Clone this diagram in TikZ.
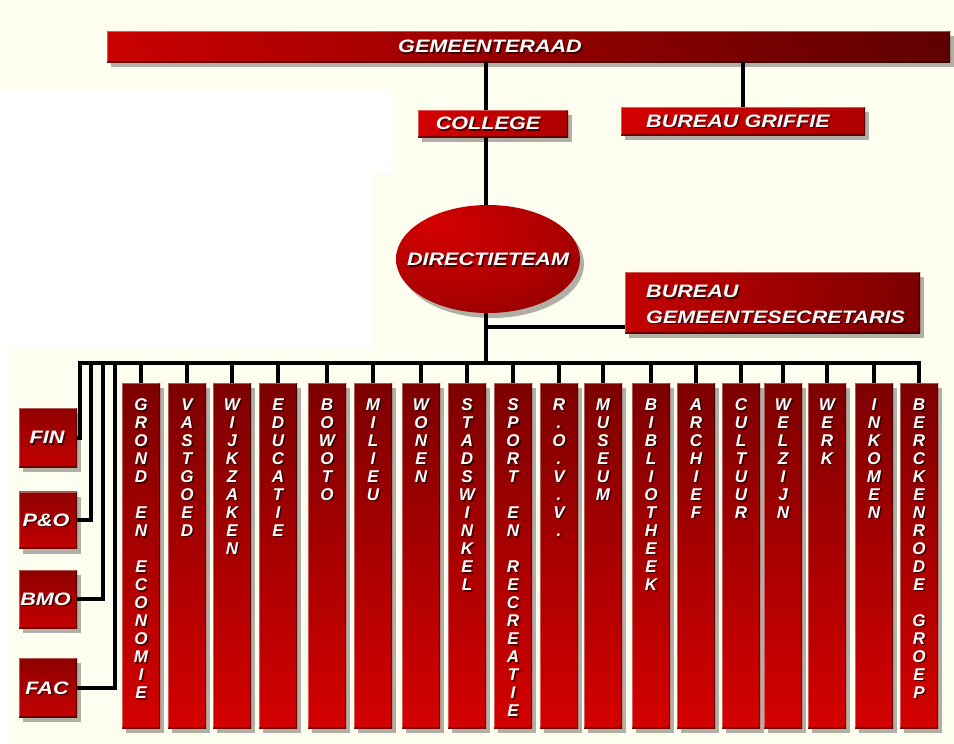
\documentclass[tikz,border=0pt]{standalone}
\usepackage{fontspec}
\newfontfamily\labfont[FakeStretch=1.2]{Liberation Sans}
\newfontfamily\colfont{Liberation Sans}
\usetikzlibrary{shapes.geometric,shadows}
\definecolor{cream}{RGB}{253,253,240}
\definecolor{rbright}{RGB}{212,0,0}
\definecolor{rmid}{RGB}{175,0,0}
\definecolor{rdark}{RGB}{125,0,0}
\definecolor{rdeep}{RGB}{95,0,0}
\pgfdeclareradialshading{dirshade}{\pgfpoint{-14bp}{16bp}}{color(0bp)=(rbright); color(26bp)=(rmid); color(50bp)=(rdark); color(75bp)=(rdeep)}
\tikzset{
  conn/.style={line width=4pt, black, line join=miter},
  bevel/.style={path picture={
      \draw[white,opacity=.35,line width=2.5pt] (path picture bounding box.south west) -- (path picture bounding box.north west) -- (path picture bounding box.north east);
      \draw[black,opacity=.45,line width=2.5pt] (path picture bounding box.north east) -- (path picture bounding box.south east) -- (path picture bounding box.south west);}},
  box/.style={rectangle, inner sep=0pt, bevel,
      drop shadow={shadow xshift=4pt, shadow yshift=-5pt, opacity=.3, fill=black}},
  hbox/.style={box, left color=rbright, right color=rmid},
  sqbox/.style={box, top color=rdark!80!rbright, bottom color=rbright!92!black, minimum width=58pt},
  colbox/.style={box, top color=rdark, bottom color=rbright, minimum width=38pt, minimum height=345pt},
  lbl/.style={text=white, inner sep=0pt, font=\labfont\bfseries\itshape\fontsize{18}{25.5}\selectfont},
  coltxt/.style={anchor=north, align=center, text=white, inner sep=0pt, font=\colfont\bfseries\itshape\fontsize{17}{18}\selectfont},
  txtsh/.style={text=black, text opacity=.6},
}
\newcommand\lab[3]{%
  \node[lbl,txtsh] (#1s) at ([shift={(1.5,1.5)}]#2) {#3};
  \node[lbl] (#1) at (#2) {#3};}
\newcommand\mkcol[3]{%
  \node[colbox] (#1) at (#2,555.5) {};
  \node[coltxt,txtsh] (#1s) at (#2+1.5,400) {#3};
  \node[coltxt] (#1t) at (#2,398.5) {#3};}
\begin{document}
\begin{tikzpicture}[x=1pt,y=-1pt]
\useasboundingbox (0,0) rectangle (954,744);
\fill[cream] (0,0) rectangle (954,744);
\fill[white] (0,90) rectangle (393,173);
\fill[white] (0,173) rectangle (373,350);
\fill[white] (0,350) rectangle (9,744);

% coordinates
\coordinate (tx) at (486,0);
\coordinate (busL) at (80,363);
\coordinate (bp) at (91,363);
\coordinate (bb) at (103,363);
\coordinate (bf) at (115,363);
\coordinate (busM) at (486,363);
\coordinate (br) at (486,327);

% boxes
\node[hbox, minimum width=843pt, minimum height=31pt, left color=rbright!95!black, right color=rdeep] (gem) at (528.5,46.5) {};
\node[hbox, minimum width=150pt, minimum height=27pt] (college) at (493,123.5) {};
\node[hbox, minimum width=244pt, minimum height=28pt] (griffie) at (743,121) {};
\node[ellipse, inner sep=0pt, minimum width=184pt, minimum height=108pt, shading=dirshade,
      drop shadow={shadow xshift=4pt, shadow yshift=-5pt, opacity=.3, fill=black}] (dir) at (488,259) {};
\node[hbox, minimum width=295pt, minimum height=61pt, left color=rbright!92!black, right color=rdark] (bgs) at (772.5,302.5) {};
\node[sqbox, minimum height=59pt] (fin) at (48,437.5) {};
\node[sqbox, minimum height=57pt] (po) at (48,520) {};
\node[sqbox, minimum height=58pt] (bmo) at (48,599) {};
\node[sqbox, minimum height=59pt] (fac) at (48,687.5) {};

% columns
\mkcol{col1}{141}{G\\R\\O\\N\\D\\~\\E\\N\\~\\E\\C\\O\\N\\O\\M\\I\\E}
\mkcol{col2}{187}{V\\A\\S\\T\\G\\O\\E\\D}
\mkcol{col3}{232}{W\\I\\J\\K\\Z\\A\\K\\E\\N}
\mkcol{col4}{278}{E\\D\\U\\C\\A\\T\\I\\E}
\mkcol{col5}{327}{B\\O\\W\\O\\T\\O}
\mkcol{col6}{373}{M\\I\\L\\I\\E\\U}
\mkcol{col7}{421}{W\\O\\N\\E\\N}
\mkcol{col8}{467}{S\\T\\A\\D\\S\\W\\I\\N\\K\\E\\L}
\mkcol{col9}{513}{S\\P\\O\\R\\T\\~\\E\\N\\~\\R\\E\\C\\R\\E\\A\\T\\I\\E}
\mkcol{col10}{559}{R\\.\\O\\.\\V\\.\\V\\.}
\mkcol{col11}{603}{M\\U\\S\\E\\U\\M}
\mkcol{col12}{651}{B\\I\\B\\L\\I\\O\\T\\H\\E\\E\\K}
\mkcol{col13}{696}{A\\R\\C\\H\\I\\E\\F}
\mkcol{col14}{741}{C\\U\\L\\T\\U\\U\\R}
\mkcol{col15}{783}{W\\E\\L\\Z\\I\\J\\N}
\mkcol{col16}{827}{W\\E\\R\\K}
\mkcol{col17}{874}{I\\N\\K\\O\\M\\E\\N}
\mkcol{col18}{919}{B\\E\\R\\C\\K\\E\\N\\R\\O\\D\\E\\~\\G\\R\\O\\E\\P}

% labels
\lab{gemt}{490,46.5}{GEMEENTERAAD}
\lab{colt}{488,123.5}{COLLEGE}
\lab{grit}{738,121}{BUREAU GRIFFIE}
\lab{dirt}{488,259.5}{DIRECTIETEAM}
\node[lbl,txtsh,align=left,anchor=north west] (bgsts) at (647.5,286.5) {BUREAU\\GEMEENTESECRETARIS};
\node[lbl,align=left,anchor=north west] (bgst) at (646,285) {BUREAU\\GEMEENTESECRETARIS};
\lab{fint}{47,437.5}{FIN}
\lab{pot}{46,520}{P\&O}
\lab{bmot}{45.5,599}{BMO}
\lab{fact}{47,688}{FAC}

% connectors
\draw[conn] (gem.south -| tx) -- (college.north -| tx);
\draw[conn] (gem.south -| griffie.north) -- (griffie.north);
\draw[conn] (college.south -| tx) -- (dir.north -| tx);
\draw[conn] (dir.south -| tx) -- (busM);
\draw[conn] (br) -- (br -| bgs.west);
\draw[conn] (fin.east) -| (busL) -- (busL -| col18.north) -- (col18.north);
\draw[conn] (po.east) -| (bp);
\draw[conn] (bmo.east) -| (bb);
\draw[conn] (fac.east) -| (bf);
\foreach \i in {1,...,17} {
  \draw[conn] (col\i.north) -- (col\i.north |- busL);
}
\end{tikzpicture}
\end{document}
